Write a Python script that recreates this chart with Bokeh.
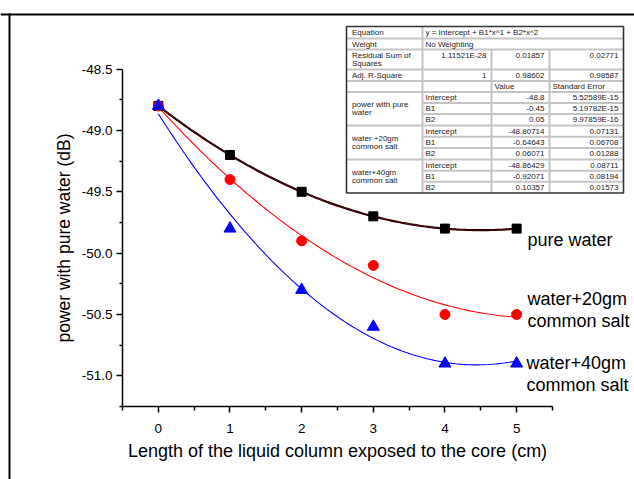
import numpy as np
from bokeh.plotting import figure
from bokeh.models import Range1d, FixedTicker, PrintfTickFormatter
from bokeh.core.properties import value
from bokeh.embed import file_html
from bokeh.resources import INLINE

# ---------------- data ----------------
length_cm = [0, 1, 2, 3, 4, 5]
pure_water = [-48.8, -49.2, -49.5, -49.7, -49.8, -49.8]
salt_20gm = [-48.8, -49.4, -49.9, -50.1, -50.5, -50.5]
salt_40gm = [-48.8, -49.8, -50.3, -50.6, -50.9, -50.9]

series_names = ["power with pure\nwater", "water +20gm\ncommon salt", "water+40gm\ncommon salt"]
label_names = ["pure water", "water+20gm\ncommon salt", "water+40gm\ncommon salt"]

# quadratic fit coefficients (Intercept, B1, B2) and standard errors as printed in the table
fit_pure = [-48.8, -0.45, 0.05]
fit_20 = [-48.80714, -0.64643, 0.06071]
fit_40 = [-48.86429, -0.92071, 0.10357]
se_pure = [5.52589e-15, 5.19782e-15, 9.97859e-16]
se_20 = [0.07131, 0.06708, 0.01288]
se_40 = [0.08711, 0.08194, 0.01573]
residual_ss = [1.11521e-28, 0.01857, 0.02771]
adj_r2 = [1, 0.98602, 0.98587]
equation = "y = Intercept + B1*x^1 + B2*x^2"
weight = "No Weighting"
param_names = ["Intercept", "B1", "B2"]

x_ticks = [0, 1, 2, 3, 4, 5]
x_minor = [-0.5, 0.5, 1.5, 2.5, 3.5, 4.5, 5.5]
y_ticks = [-51.0, -50.5, -50.0, -49.5, -49.0, -48.5]
y_minor = [-51.25, -50.75, -50.25, -49.75, -49.25, -48.75]

FONT = "Liberation Sans"


def fmt(v):
    if float(v) == int(v) and abs(v) < 1e6:
        return str(int(v))
    return str(v).replace("e", "E")


# ---------------- figure (frame covers the whole canvas; axes at fixed data locations) ----------------
W, H = 634, 479
AX_X, AX_Y = 122, 406      # page position of the axes origin (-0.5, -51.25)
xpx, ypx = 71.66, 122.68   # pixels per data unit
x0, y0 = -0.5, -51.25
xs_ = x0 - AX_X / xpx
ys_ = y0 - (H - AX_Y) / ypx

p = figure(width=W, height=H,
           x_range=Range1d(xs_, xs_ + W / xpx), y_range=Range1d(ys_, ys_ + H / ypx),
           output_backend="svg", toolbar_location=None,
           min_border_left=0, min_border_right=0, min_border_top=0, min_border_bottom=0)
# page-pixel ranges for the table, texts and the frame border
p.extra_x_ranges = {"px": Range1d(0, W)}
p.extra_y_ranges = {"px": Range1d(H, 0)}
p.outline_line_color = None
p.xgrid.visible = False
p.ygrid.visible = False
p.background_fill_color = "white"
p.border_fill_color = "white"

for ax in (p.xaxis[0], p.yaxis[0]):
    ax.axis_line_width = 1.5
    ax.major_tick_line_width = 1.5
    ax.minor_tick_line_width = 1.5
    ax.major_tick_in = 0
    ax.minor_tick_in = 0
    ax.major_label_text_font = FONT
    ax.major_label_text_font_size = "13.5px"
    ax.major_label_text_color = "black"
    ax.axis_label_text_font = FONT
    ax.axis_label_text_font_style = "normal"
    ax.axis_label_text_color = "black"
p.xaxis.axis_label_text_font_size = "18px"
p.yaxis.axis_label_text_font_size = "17.5px"

p.xaxis.fixed_location = y0
p.yaxis.fixed_location = x0
p.xaxis.bounds = (-0.5, 5.5)
p.yaxis.bounds = (-51.25, -48.5)
p.xaxis.ticker = FixedTicker(ticks=x_ticks, minor_ticks=x_minor)
p.yaxis.ticker = FixedTicker(ticks=y_ticks, minor_ticks=y_minor)
p.xaxis.formatter = PrintfTickFormatter(format="%d")
p.yaxis.formatter = PrintfTickFormatter(format="%.1f")
p.xaxis.major_tick_out = 6
p.xaxis.minor_tick_out = 4
p.yaxis.major_tick_out = 6
p.yaxis.minor_tick_out = 3
p.xaxis.major_label_standoff = 11
p.yaxis.major_label_standoff = 4
p.xaxis.axis_label = "Length of the liquid column exposed to the core (cm)"
p.yaxis.axis_label = "power with pure water (dB)"
p.xaxis.axis_label_standoff = 5
p.yaxis.axis_label_standoff = 5

# frame border (top and left edges visible)
p.segment(x0=[0, 9], x1=[W, 9], y0=[14, 13], y1=[14, H],
          x_range_name="px", y_range_name="px", line_color="black", line_width=2)

# ---------------- fitted curves ----------------
xs = np.linspace(length_cm[0], length_cm[-1], 101)


def poly(c):
    return c[0] + c[1] * xs + c[2] * xs ** 2


p.line(xs, poly(fit_pure), line_color="black", line_width=2.2)
p.line(xs, poly(fit_pure), line_color="#a00000", line_width=0.7)
p.line(xs, poly(fit_20), line_color="#ff0000", line_width=1.1)
p.line(xs, poly(fit_40), line_color="#0000ff", line_width=1.1)

# ---------------- markers ----------------
p.scatter(length_cm, pure_water, marker="square", size=9, color="black")
p.scatter(length_cm, salt_20gm, marker="circle", size=10, color="#ff0000")
p.scatter(length_cm, salt_40gm, marker="triangle", size=12, color="#0000ff")

# ---------------- series labels (page pixel coordinates) ----------------
lab_x = [527, 527, 526]
lab_y = [[239.5], [298, 320], [362.5, 384.5]]
for name, lx, ly in zip(label_names, lab_x, lab_y):
    for line_txt, yy in zip(name.split("\n"), ly):
        p.text(x=[lx], y=[yy], text=[line_txt], x_range_name="px", y_range_name="px",
               text_font=value(FONT), text_font_size="18px", text_color="black",
               text_baseline="alphabetic", text_align="left")

# ---------------- fit table ----------------
tl, tr = 346, 623
cols = [tl, 422, 491, 549, tr]
rows = [26, 38, 49, 69, 80.5, 91.5, 102.5, 113.5, 125, 136.3, 147.5, 159, 170.3, 181.3, 192.5]

p.quad(left=[tl], right=[tr], top=[rows[0]], bottom=[rows[-1]], x_range_name="px", y_range_name="px",
       fill_color="white", line_color=None)

hx0, hx1, hy = [], [], []
for i in range(1, len(rows) - 1):
    inner = i in (6, 7, 9, 10, 12, 13)
    hx0.append(cols[1] if inner else tl)
    hx1.append(tr)
    hy.append(rows[i])
p.segment(x0=hx0, x1=hx1, y0=hy, y1=hy, x_range_name="px", y_range_name="px",
          line_color="#c4c4c4", line_width=2)
p.segment(x0=[cols[1], cols[2], cols[3]], x1=[cols[1], cols[2], cols[3]],
          y0=[rows[0], rows[2], rows[2]], y1=[rows[-1], rows[-1], rows[-1]],
          x_range_name="px", y_range_name="px", line_color="#c4c4c4", line_width=2)
p.quad(left=[tl], right=[tr], top=[rows[0]], bottom=[rows[-1]], x_range_name="px", y_range_name="px",
       fill_color=None, line_color="#333333", line_width=1.6)

tx, ty, tt, ta = [], [], [], []


def add(x, y, t, a="left"):
    tx.append(x); ty.append(y); tt.append(t); ta.append(a)


def mid(i):
    return (rows[i] + rows[i + 1]) / 2


padl, padr = 5.5, 5
add(tl + padl, mid(0), "Equation")
add(cols[1] + 3, mid(0), equation)
add(tl + padl, mid(1), "Weight")
add(cols[1] + 3, mid(1), weight)
add(tl + padl, rows[2] + 5.5, "Residual Sum of")
add(tl + padl, rows[2] + 14, "Squares")
for j, v in enumerate(residual_ss):
    add(cols[j + 2] - padr, rows[2] + 5.5, fmt(v), "right")
add(tl + padl, mid(3), "Adj. R-Square")
for j, v in enumerate(adj_r2):
    add(cols[j + 2] - padr, mid(3), fmt(v), "right")
add(cols[2] + 3, mid(4), "Value")
add(cols[3] + 3, mid(4), "Standard Error")
for g, (name, fit, se) in enumerate(zip(series_names, [fit_pure, fit_20, fit_40], [se_pure, se_20, se_40])):
    r0 = 5 + 3 * g
    gc = (rows[r0] + rows[r0 + 3]) / 2
    l1, l2 = name.split("\n")
    add(tl + padl, gc - 4.2, l1)
    add(tl + padl, gc + 4.2, l2)
    for k in range(3):
        add(cols[1] + 3, mid(r0 + k), param_names[k])
        add(cols[3] - padr, mid(r0 + k), fmt(fit[k]), "right")
        add(cols[4] - padr, mid(r0 + k), fmt(se[k]), "right")

p.text(x=tx, y=ty, text=tt, text_align=ta, x_range_name="px", y_range_name="px",
       text_font=value(FONT), text_font_size="8px", text_color="#222222", text_baseline="middle")

open("out.html", "w").write(file_html(p, INLINE))
